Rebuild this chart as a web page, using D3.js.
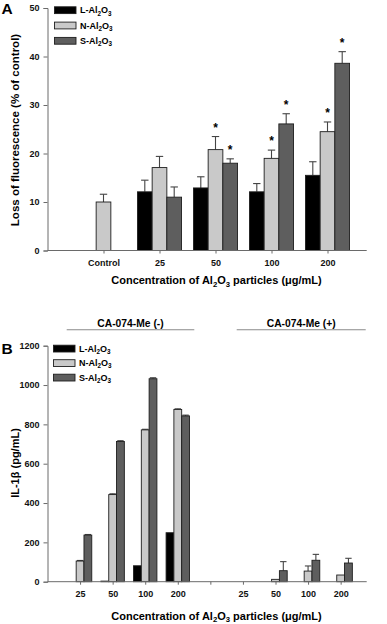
<!DOCTYPE html>
<html><head><meta charset="utf-8">
<script src="https://cdn.jsdelivr.net/npm/d3@7"></script>
<style>
html,body{margin:0;padding:0;background:#fff;}
svg{display:block;font-family:"Liberation Sans",Arial,sans-serif;font-weight:bold;}
</style></head>
<body>
<svg id="c" width="387" height="624"></svg>
<script>
// ---------- data ----------
const seriesNames = ["L", "N", "S"];
// Panel A
const catsA = ["Control", "25", "50", "100", "200"];
const aL = [null, 12.1, 12.9, 12.1, 15.5];
const aN = [10.0, 17.1, 20.8, 19.0, 24.5];
const aS = [null, 11.0, 18.0, 26.1, 38.6];
const aLerr = [null, 2.4, 2.3, 1.7, 2.8];
const aNerr = [1.6, 2.3, 2.7, 1.7, 2.0];
const aSerr = [null, 2.1, 0.9, 2.1, 2.4];
const aLsig = [false, false, false, false, false];
const aNsig = [false, false, true, true, true];
const aSsig = [false, false, true, true, true];
const yTicksA = [0, 10, 20, 30, 40, 50];
// Panel B
const catsB = ["25", "50", "100", "200", "", "25", "50", "100", "200"];
const bL = [0, 3, 81, 249, null, 0, 0, 0, 0];
const bN = [105, 443, 772, 876, null, 0, 12, 54, 34];
const bS = [237, 713, 1032, 843, null, 0, 56, 109, 95];
const bLerr = [0, 0, 0, 0, null, 0, 0, 0, 0];
const bNerr = [3, 4, 3, 3, null, 0, 0, 26, 0];
const bSerr = [3, 4, 5, 4, null, 0, 46, 30, 24];
const yTicksB = [0, 200, 400, 600, 800, 1000, 1200];
const groupLabels = ["CA-074-Me (-)", "CA-074-Me (+)"];

const fills = {L: "#000000", N: "#c9c9c9", S: "#5e5e5e"};
const axisColor = "#6a6a6a";

const svg = d3.select("#c");

function subText(sel, parts, size) {
  // parts: [text, "sub"] ; a normal part after a sub is shifted back up
  let shifted = false;
  parts.forEach(p => {
    if (p[1] === "sub") {
      sel.append("tspan").attr("font-size", size * 0.7).attr("dy", shifted ? 0 : size * 0.25).text(p[0]);
      shifted = true;
    } else {
      const t = sel.append("tspan").attr("font-size", size).text(p[0]);
      if (shifted) t.attr("dy", -size * 0.25);
      shifted = false;
    }
  });
}

function panel(opts) {
  const g = svg.append("g");
  const x = d3.scaleLinear().domain(opts.xDomain).range([47.5, 366.7]);
  const y = d3.scaleLinear().domain(opts.yDomain).range(opts.yRange);
  const bw = opts.bw;
  const data = {L: opts.L, N: opts.N, S: opts.S};
  const errs = {L: opts.Lerr, N: opts.Nerr, S: opts.Serr};
  const sigs = opts.sig || null;

  seriesNames.forEach((s, si) => {
    data[s].forEach((v, i) => {
      if (v === null || v === undefined) return;
      const cx = x(opts.pos[i]) + (si - 1) * bw;
      const e = errs[s][i] || 0;
      if (e > 0) {
        g.append("line").attr("x1", cx).attr("x2", cx).attr("y1", y(v)).attr("y2", y(v + e))
          .attr("stroke", "#444").attr("stroke-width", 1.1);
        g.append("line").attr("x1", cx - opts.cap).attr("x2", cx + opts.cap).attr("y1", y(v + e)).attr("y2", y(v + e))
          .attr("stroke", "#444").attr("stroke-width", 1.1);
      }
      if (v > 0) {
        g.append("rect").attr("x", cx - bw / 2).attr("width", bw)
          .attr("y", y(v)).attr("height", y(0) - y(v))
          .attr("fill", fills[s]).attr("stroke", "#1e1e1e").attr("stroke-width", 0.9);
      }
      if (sigs && sigs[s][i]) {
        g.append("text").attr("x", cx).attr("y", y(v + e) - 5)
          .attr("text-anchor", "middle").attr("font-size", 12).text("*");
      }
    });
  });

  const ya = g.append("g").attr("transform", "translate(47.5,0)")
    .call(d3.axisLeft(y).tickValues(opts.yTicks).tickSize(4).tickPadding(4).tickFormat(d3.format("d")));
  ya.select(".domain").attr("stroke", axisColor);
  ya.selectAll(".tick line").attr("stroke", axisColor);
  ya.selectAll("text").attr("font-size", 9).attr("font-family", "Liberation Sans, Arial, sans-serif").attr("font-weight", "bold").attr("fill", "#111");

  const xa = g.append("g").attr("transform", `translate(0,${opts.yRange[0]})`)
    .call(d3.axisBottom(x).tickValues(opts.tickPos).tickSize(3).tickPadding(6)
      .tickFormat((d, i) => opts.tickLabels[i]));
  xa.select(".domain").attr("stroke", axisColor).attr("d", `M47.5,0H366.7`);
  xa.selectAll(".tick line").attr("stroke", axisColor);
  xa.selectAll("text").attr("font-size", 9).attr("font-family", "Liberation Sans, Arial, sans-serif").attr("font-weight", "bold").attr("fill", "#111");
  xa.selectAll(".tick").filter((d, i) => opts.tickLabels[i] === "").select("text").remove();

  const names = [["L-Al", "O"], ["N-Al", "O"], ["S-Al", "O"]];
  seriesNames.forEach((s, si) => {
    const ly = opts.legY + si * opts.legDy;
    g.append("rect").attr("x", opts.legX).attr("y", ly).attr("width", 21.5).attr("height", 6.8)
      .attr("fill", fills[s]).attr("stroke", "#1e1e1e").attr("stroke-width", 0.9);
    const t = g.append("text").attr("x", opts.legX + 25.5).attr("y", ly + 6.5).attr("font-size", 9);
    subText(t, [[names[si][0]], ["2", "sub"], [names[si][1]], ["3", "sub"]], 9);
  });

  const xt = g.append("text").attr("x", 216.5).attr("y", opts.xTitleY).attr("text-anchor", "middle").attr("font-size", 11);
  subText(xt, [["Concentration of Al"], ["2", "sub"], ["O"], ["3", "sub"], [" particles (\u03bcg/mL)"]], 11);

  g.append("text").attr("transform", `translate(${opts.yTitleX},${opts.yTitleY}) rotate(-90)`)
    .attr("text-anchor", "middle").attr("font-size", opts.yTitleSize).text(opts.yTitle);

  g.append("text").attr("x", 1.5).attr("y", opts.letterY).attr("font-size", 15.5).text(opts.letter);
  return {x, y, g};
}

panel({
  xDomain: [0, 5.7], yDomain: [0, 50], yRange: [250.5, 8],
  pos: [1, 2, 3, 4, 5], tickPos: [1, 2, 3, 4, 5], tickLabels: catsA,
  bw: 14.7, cap: 3.7,
  L: aL, N: aN, S: aS, Lerr: aLerr, Nerr: aNerr, Serr: aSerr,
  sig: {L: aLsig, N: aNsig, S: aSsig},
  yTicks: yTicksA,
  legX: 54.5, legY: 6.8, legDy: 15.3,
  xTitleY: 284, yTitleX: 18.5, yTitleY: 130, yTitleSize: 11.5,
  yTitle: "Loss of fluorescence (% of control)",
  letter: "A", letterY: 13.5
});

panel({
  xDomain: [0, 9.8], yDomain: [0, 1200], yRange: [581.7, 345.7],
  pos: [1, 2, 3, 4, 5, 6, 7, 8, 9], tickPos: [1, 2, 3, 4, 5, 6, 7, 8, 9], tickLabels: catsB,
  bw: 7.8, cap: 3.2,
  L: bL, N: bN, S: bS, Lerr: bLerr, Nerr: bNerr, Serr: bSerr,
  sig: null,
  yTicks: yTicksB,
  legX: 53.5, legY: 345.2, legDy: 14.5,
  xTitleY: 619.5, yTitleX: 18.5, yTitleY: 463, yTitleSize: 11,
  yTitle: "IL-1\u03b2 (pg/mL)",
  letter: "B", letterY: 353.5
});

const bracket = [[66.7, 194.3], [236.7, 365.7]];
groupLabels.forEach((lab, i) => {
  svg.append("line").attr("x1", bracket[i][0]).attr("x2", bracket[i][1]).attr("y1", 329.8).attr("y2", 329.8)
    .attr("stroke", "#8a8a8a").attr("stroke-width", 1.1);
  svg.append("text").attr("x", (bracket[i][0] + bracket[i][1]) / 2).attr("y", 326.5)
    .attr("text-anchor", "middle").attr("font-size", 10.3).text(lab);
});
</script>
</body></html>
